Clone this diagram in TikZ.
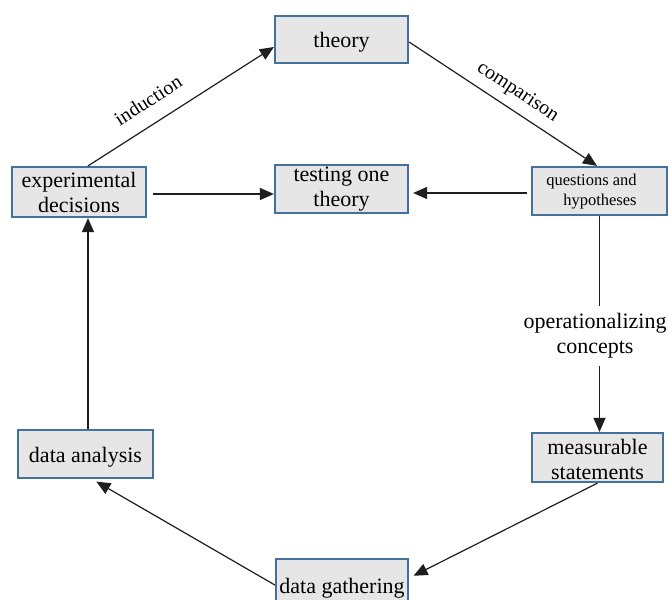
\documentclass[tikz,border=0pt]{standalone}
\usepackage{fontspec}
\setmainfont{Liberation Serif}
\newfontfamily\diagfont{Liberation Serif}
\usetikzlibrary{arrows.meta}
\definecolor{boxblue}{RGB}{65,113,156}
\definecolor{boxfill}{RGB}{230,230,230}
\definecolor{linegray}{RGB}{30,30,30}

\begin{document}
\begin{tikzpicture}[x=1pt,y=-1pt,
  box/.style={draw=boxblue, line width=2.2pt, fill=boxfill, inner sep=0pt,
    align=center, font=\diagfont\fontsize{22}{25}\selectfont},
  link/.style={draw=linegray, line width=1.2pt},
  arr/.style={link, -{Triangle[length=14pt,width=12pt]}},
  tag/.style={font=\diagfont\fontsize{20}{24}\selectfont, text=black, sloped}]
\useasboundingbox (0,0) rectangle (668,599);
\clip (0,0) rectangle (668,599);
\fill[white] (0,0) rectangle (668,599);

% boxes of the research cycle
\node[box, minimum width=133pt, minimum height=47pt] (theory) at (341.5,39.5)
  {\rule{0pt}{20pt}theory};
\node[box, minimum width=134pt, minimum height=50pt] (expdec) at (79,192)
  {experimental\\decisions};
\node[box, minimum width=133pt, minimum height=48pt] (testing) at (341.5,189)
  {testing one\\theory};
\node[box, minimum width=135pt, minimum height=48pt,
  font=\diagfont\fontsize{16.5}{20}\selectfont] (questions) at (599.5,191)
  {\begin{tabular}{@{}r@{\hspace{16pt}}}questions and\\hypotheses\end{tabular}};
\node[box, minimum width=131pt, minimum height=49pt] (measurable) at (597.5,457.5)
  {\rule{0pt}{20pt}measurable\\statements};
\node[box, minimum width=135pt, minimum height=48pt] (analysis) at (85.5,454)
  {\rule{0pt}{21pt}data analysis};
\node[box, minimum width=132pt, minimum height=48pt] (gathering) at (342,583)
  {\rule{0pt}{25pt}data gathering};

% label standing on the vertical connector
\node[font=\diagfont\fontsize{22}{25}\selectfont, align=center, inner xsep=2pt,
  inner ysep=7pt] (opcon) at (595,336) {operationalizing\\concepts};

% connectors
\draw[arr] ([xshift=9pt]expdec.north) --
  node[tag, pos=0.39, above=12pt] (indlabel) {induction}
  ([yshift=-7.5pt]theory.west);
\draw[arr] ([yshift=-2.5pt]theory.east) --
  node[tag, pos=0.525, above=5pt] (cmplabel) {comparison}
  ([xshift=-2.5pt]questions.north);
\draw[arr, shorten <=6pt] ([yshift=-2pt]expdec.east) -- ([yshift=-5pt]testing.west);
\draw[arr, shorten <=4pt, shorten >=4pt] ([yshift=-2pt]questions.west) -- ([yshift=-4pt]testing.east);
\draw[link] (questions.south) -- (questions.south |- opcon.north);
\draw[arr] (questions.south |- opcon.south) -- (questions.south |- measurable.north);
\draw[arr, shorten >=5pt] (measurable.south) -- ([yshift=5pt]gathering.east);
\draw[arr, shorten >=5pt] ([yshift=-2pt]gathering.west) -- ([xshift=6.5pt]analysis.south);
\draw[arr] ([xshift=2.5pt]analysis.north) -- ([xshift=9pt]expdec.south);
\end{tikzpicture}
\end{document}
